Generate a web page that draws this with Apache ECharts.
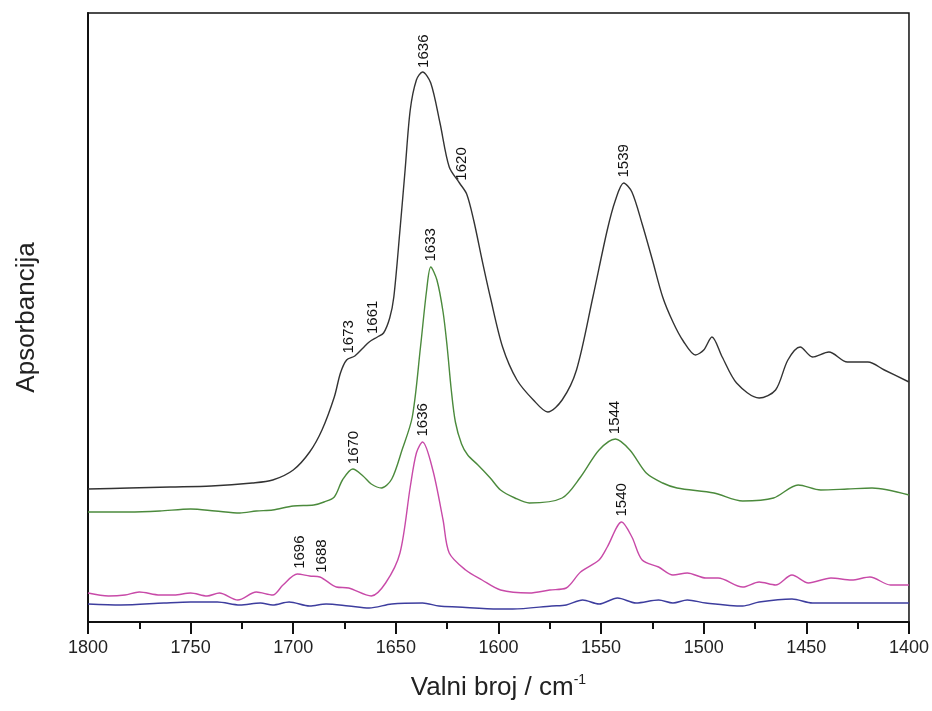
<!DOCTYPE html>
<html>
<head>
<meta charset="utf-8">
<script src="https://cdn.jsdelivr.net/npm/echarts@6/dist/echarts.min.js"></script>
<style>
  html, body { margin: 0; padding: 0; background: #fff; }
  #chart { width: 932px; height: 711px; }
</style>
</head>
<body>
<div id="chart"></div>
<script>
// wavenumber (cm-1), absorbance in arbitrary units (offset spectra)
const blackSpectrum = [
  [1800, 133], [1780, 134], [1760, 135], [1740, 136], [1720, 139], [1710, 142],
  [1700, 152], [1692, 170], [1686, 192], [1680, 225], [1677, 249], [1674, 262],
  [1670, 266], [1666, 274], [1663, 280], [1659, 285], [1656, 289], [1653, 304],
  [1651, 325], [1648, 392], [1645.5, 452], [1643, 512], [1640, 542], [1637, 550],
  [1633, 539], [1628.5, 499], [1624, 455], [1619, 439], [1615.5, 428], [1612, 401],
  [1608, 362], [1604, 325], [1598, 275], [1591, 242], [1583, 222], [1576, 210],
  [1569, 222], [1562, 252], [1554, 325], [1547, 392], [1543, 422], [1539, 439],
  [1535, 430], [1530, 398], [1525, 362], [1520, 325], [1515, 300], [1510, 281],
  [1504, 267], [1500, 272], [1496, 285], [1491, 265], [1484, 239], [1473, 224],
  [1465, 232], [1459, 262], [1453, 275], [1447, 265], [1439, 270], [1430, 260],
  [1420, 260], [1412, 252], [1400, 240]
];
const greenSpectrum = [
  [1800, 110], [1780, 110], [1765, 111], [1750, 113], [1738, 111], [1726, 109],
  [1718, 111], [1710, 112], [1700, 116], [1690, 117], [1685, 120], [1680, 125],
  [1676, 142], [1671, 153], [1666, 146], [1662, 138], [1657, 134], [1652, 143],
  [1647, 172], [1642, 205], [1638, 275], [1635, 332], [1633, 355], [1630, 342],
  [1627, 310], [1625, 275], [1623, 232], [1621, 200], [1618, 178], [1615, 167],
  [1610, 157], [1604, 144], [1599, 132], [1592, 124], [1585, 119], [1569, 124],
  [1560, 145], [1551, 172], [1543, 183], [1536, 172], [1528, 149], [1520, 139],
  [1513, 134], [1495, 129], [1481, 121], [1466, 124], [1454, 137], [1443, 132],
  [1430, 133], [1418, 134], [1400, 127]
];
const magentaSpectrum = [
  [1800, 29], [1790, 26], [1782, 27], [1775, 30], [1765, 27], [1758, 27],
  [1750, 29], [1742, 26], [1736, 29], [1727, 22], [1718, 30], [1710, 27],
  [1705, 37], [1698, 48], [1692, 46], [1687, 45], [1679, 35], [1673, 34],
  [1662, 26], [1655, 39], [1648, 69], [1643, 135], [1640, 169], [1637, 180],
  [1632, 152], [1627, 102], [1624, 69], [1616, 52], [1608, 42], [1599, 32],
  [1585, 29], [1575, 32], [1567, 34], [1560, 50], [1551, 62], [1547, 75],
  [1540, 100], [1535, 85], [1530, 62], [1522, 55], [1515, 47], [1508, 49],
  [1499, 44], [1493, 44], [1481, 35], [1473, 40], [1465, 37], [1457, 47],
  [1449, 39], [1438, 44], [1428, 42], [1419, 45], [1409, 37], [1400, 37]
];
const blueSpectrum = [
  [1800, 18], [1784, 17], [1763, 19], [1750, 20], [1737, 20], [1726, 17],
  [1716, 19], [1710, 17], [1702, 20], [1692, 16], [1684, 18], [1673, 16],
  [1663, 14], [1652, 18], [1637, 19], [1629, 16], [1620, 15], [1600, 13],
  [1593, 13], [1574, 16], [1567, 17], [1559, 22], [1551, 18], [1542, 24],
  [1533, 19], [1522, 22], [1515, 19], [1508, 22], [1499, 19], [1481, 16],
  [1473, 20], [1457, 23], [1447, 19], [1418, 19], [1400, 19]
];

// peak labels: wavenumber where the label sits, text shown
const blackPeaks = [[1673, '1673'], [1661, '1661'], [1636.5, '1636'], [1618, '1620'], [1539, '1539']];
const greenPeaks = [[1670.5, '1670'], [1633, '1633'], [1543.5, '1544']];
const magentaPeaks = [[1697, '1696'], [1686, '1688'], [1637, '1636'], [1540, '1540']];

const FONT = 'Liberation Sans, Arial, sans-serif';

// height of a spectrum at a given wavenumber (for placing labels)
function heightAt(spec, wn) {
  for (let i = 0; i < spec.length - 1; i++) {
    const a = spec[i], b = spec[i + 1];
    if (wn <= a[0] && wn >= b[0]) {
      const t = (a[0] - wn) / (a[0] - b[0]);
      return a[1] + (b[1] - a[1]) * t;
    }
  }
  return spec[spec.length - 1][1];
}

function peakMarks(spec, peaks) {
  return {
    symbol: 'circle',
    symbolSize: 1,
    itemStyle: { color: 'rgba(0,0,0,0)' },
    label: {
      show: true,
      position: 'top',
      rotate: 90,
      align: 'left',
      verticalAlign: 'middle',
      distance: 5,
      color: '#111',
      fontSize: 15,
      fontFamily: FONT,
      formatter: (p) => p.name,
    },
    data: peaks.map(([wn, txt]) => ({ name: txt, coord: [wn, heightAt(spec, wn)] })),
  };
}

function spectrum(data, color, peaks) {
  return {
    type: 'line',
    data: data,
    smooth: 0.3,
    showSymbol: false,
    lineStyle: { color: color, width: 1.4 },
    itemStyle: { color: color },
    markPoint: peaks ? peakMarks(data, peaks) : undefined,
    silent: true,
  };
}

const chart = echarts.init(document.getElementById('chart'));
chart.setOption({
  backgroundColor: '#fff',
  animation: false,
  textStyle: { fontFamily: FONT },
  grid: {
    left: 88,
    right: 23,
    top: 13,
    bottom: 89,
    show: true,
    borderColor: '#111',
    borderWidth: 1.5,
  },
  xAxis: {
    type: 'value',
    min: 1400,
    max: 1800,
    interval: 50,
    inverse: true,
    name: 'Valni broj / cm{sup|-1}',
    nameLocation: 'middle',
    nameGap: 51,
    nameTextStyle: {
      fontSize: 26,
      color: '#222',
      rich: {
        sup: { fontSize: 14, verticalAlign: 'top', padding: [0, 0, 16, 0], color: '#222' },
      },
    },
    axisLine: { show: true, lineStyle: { color: '#111', width: 2 } },
    axisTick: { show: true, inside: false, length: 12, lineStyle: { color: '#111', width: 2 } },
    minorTick: { show: true, splitNumber: 2, length: 7, lineStyle: { color: '#111', width: 2 } },
    axisLabel: { color: '#222', fontSize: 18, margin: 17, formatter: (v) => String(v) },
    splitLine: { show: false },
    minorSplitLine: { show: false },
  },
  yAxis: {
    type: 'value',
    min: 0,
    max: 609,
    name: 'Apsorbancija',
    nameLocation: 'middle',
    nameGap: 48,
    nameTextStyle: { fontSize: 26, color: '#222' },
    axisLine: { show: true, lineStyle: { color: '#111', width: 2 } },
    axisTick: { show: false },
    axisLabel: { show: false },
    splitLine: { show: false },
  },
  series: [
    spectrum(blueSpectrum, '#3d3d9e', null),
    spectrum(magentaSpectrum, '#c84aa8', magentaPeaks),
    spectrum(greenSpectrum, '#4b8a3c', greenPeaks),
    spectrum(blackSpectrum, '#333333', blackPeaks),
  ],
});
</script>
</body>
</html>
